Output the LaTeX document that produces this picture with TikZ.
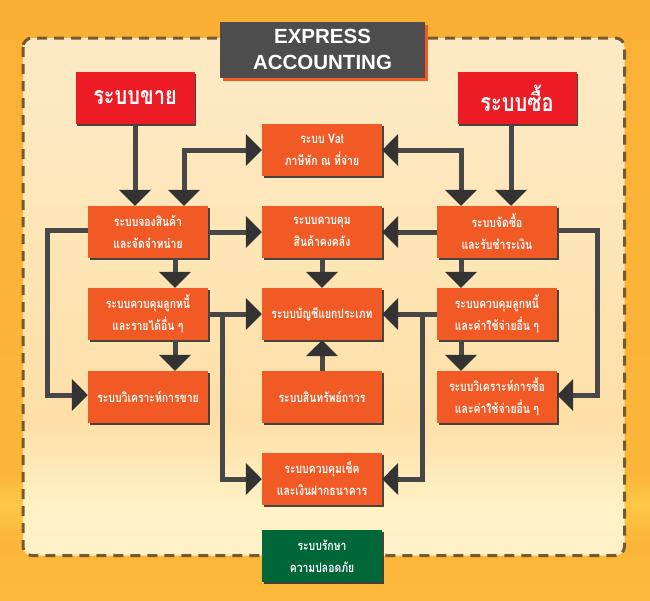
\documentclass[tikz,border=0pt]{standalone}
\usepackage{fontspec}
\usepackage{tikz}
\usetikzlibrary{arrows.meta,shadows}
\setmainfont{Liberation Sans}
\newfontfamily\thaifont[Script=Thai,FakeStretch=0.8]{Loma}

\definecolor{boxorange}{HTML}{F15A24}
\definecolor{boxred}{HTML}{ED1C24}
\definecolor{boxgreen}{HTML}{006838}
\definecolor{titlegray}{HTML}{4D4D4D}
\definecolor{linkgray}{HTML}{474747}
\definecolor{tipgray}{HTML}{333333}
\definecolor{dashbrown}{HTML}{76592C}
\definecolor{obA}{HTML}{FBB83B}
\definecolor{obB}{HTML}{FBB63A}
\definecolor{obC}{HTML}{FCC845}
\definecolor{obD}{HTML}{FBB035}
\definecolor{ibA}{HTML}{FEF0C7}
\definecolor{ibB}{HTML}{FFF3C6}
\definecolor{ibC}{HTML}{FEDFA7}
\definecolor{ibD}{HTML}{FEE4B2}
\definecolor{ibE}{HTML}{FDEBC7}

\pgfdeclareverticalshading{outerbg}{100bp}{color(0bp)=(obA); color(25bp)=(obA);
  color(30bp)=(obB); color(33bp)=(obC); color(35.5bp)=(obB); color(75bp)=(obD); color(100bp)=(obD)}
\pgfdeclareverticalshading{innerbg}{100bp}{color(0bp)=(ibA); color(25bp)=(ibA);
  color(29.5bp)=(ibB); color(38bp)=(ibC); color(50bp)=(ibD); color(75bp)=(ibE); color(100bp)=(ibE)}

\begin{document}
\begin{tikzpicture}[
  x=1pt,y=-1pt,
  sysbox/.style={rectangle,fill=boxorange,text=white,minimum width=120pt,minimum height=52pt,
    inner sep=1pt,align=center,font=\thaifont\bfseries\fontsize{13}{22}\selectfont,
    drop shadow={shadow xshift=1.5pt,shadow yshift=-1.5pt,fill=black!80,opacity=0.9}},
  mainbox/.style={sysbox,fill=boxred,font=\thaifont\bfseries\fontsize{25}{28}\selectfont},
  safebox/.style={sysbox,fill=boxgreen},
  titlebox/.style={rectangle,fill=titlegray,text=white,minimum width=205pt,minimum height=56pt,
    inner sep=1pt,align=center,font=\bfseries\fontsize{20.5}{26}\selectfont,
    drop shadow={shadow xshift=3pt,shadow yshift=-3pt,fill=boxorange,opacity=1}},
  link/.style={draw=linkgray,line width=5pt,-{Triangle[width=31pt,length=16pt,color=tipgray]}},
  dlink/.style={link,{Triangle[width=31pt,length=16pt,color=tipgray]}-{Triangle[width=31pt,length=16pt,color=tipgray]}}
]
  \shade[shading=outerbg] (0,0) rectangle (650,600);
  \shade[shading=innerbg,rounded corners=9pt] (23,38) rectangle (624.5,555.5);
  \draw[dashbrown,line width=3pt,dash pattern=on 10pt off 7pt,rounded corners=9pt] (23,38) rectangle (624.5,555.5);

  \node[titlebox] (title) at (322.5,49.5) {EXPRESS\\ACCOUNTING};
  \node[mainbox,minimum width=119pt] (sales) at (135,98) {ระบบขาย};
  \node[mainbox,minimum width=119pt] (buy) at (517,98) {ระบบซื้อ};
  \node[sysbox] (vat) at (322,150) {ระบบ Vat\\ภาษีหัก ณ ที่จ่าย};
  \node[sysbox] (order) at (148,232) {ระบบจองสินค้า\\และจัดจำหน่าย};
  \node[sysbox] (stock) at (322,232) {ระบบควบคุม\\สินค้าคงคลัง};
  \node[sysbox] (purch) at (497,232) {ระบบจัดซื้อ\\และรับชำระเงิน};
  \node[sysbox] (debtor) at (148,314) {ระบบควบคุมลูกหนี้\\และรายได้อื่น ๆ};
  \node[sysbox] (ledger) at (322,314) {ระบบบัญชีแยกประเภท};
  \node[sysbox] (creditor) at (497,314) {ระบบควบคุมลูกหนี้\\และค่าใช้จ่ายอื่น ๆ};
  \node[sysbox] (salesan) at (148,397) {ระบบวิเคราะห์การขาย};
  \node[sysbox] (asset) at (322,397) {ระบบสินทรัพย์ถาวร};
  \node[sysbox] (buyan) at (497,397) {ระบบวิเคราะห์การซื้อ\\และค่าใช้จ่ายอื่น ๆ};
  \node[sysbox] (cheque) at (322,479) {ระบบควบคุมเช็ค\\และเงินฝากธนาคาร};
  \node[safebox] (guard) at (322,556) {ระบบรักษา\\ความปลอดภัย};

  \draw[link] (sales.south) -- (sales.south |- order.north);
  \draw[link] ([xshift=-6pt]buy.south) -- ([xshift=-6pt]buy.south |- purch.north);
  \draw[dlink] ([xshift=36pt]order.north) |- (vat.west);
  \draw[dlink] ([xshift=-36pt]purch.north) |- (vat.east);
  \draw[link] (order.east) -- (stock.west);
  \draw[link] (purch.west) -- (stock.east);
  \draw[link] ([xshift=27pt]order.south) -- ([xshift=27pt]debtor.north);
  \draw[link] (stock.south) -- (ledger.north);
  \draw[link] ([xshift=-36pt]purch.south) -- ([xshift=-36pt]creditor.north);
  \draw[link] (debtor.east) -- (ledger.west);
  \draw[link] (creditor.west) -- (ledger.east);
  \draw[link] ([xshift=14pt]debtor.east) |- (cheque.west);
  \draw[link] ([xshift=-14pt]creditor.west) |- (cheque.east);
  \draw[link] ([xshift=27pt]debtor.south) -- ([xshift=27pt]salesan.north);
  \draw[link] ([xshift=-36pt]creditor.south) -- ([xshift=-36pt]buyan.north);
  \draw[link] (asset.north) -- (ledger.south);
  \draw[link] ([yshift=2pt]order.west) -- ++(-40,0) |- ([yshift=2pt]salesan.west);
  \draw[link] ([yshift=2pt]purch.east) -- ++(40,0) |- ([yshift=2pt]buyan.east);
\end{tikzpicture}
\end{document}
